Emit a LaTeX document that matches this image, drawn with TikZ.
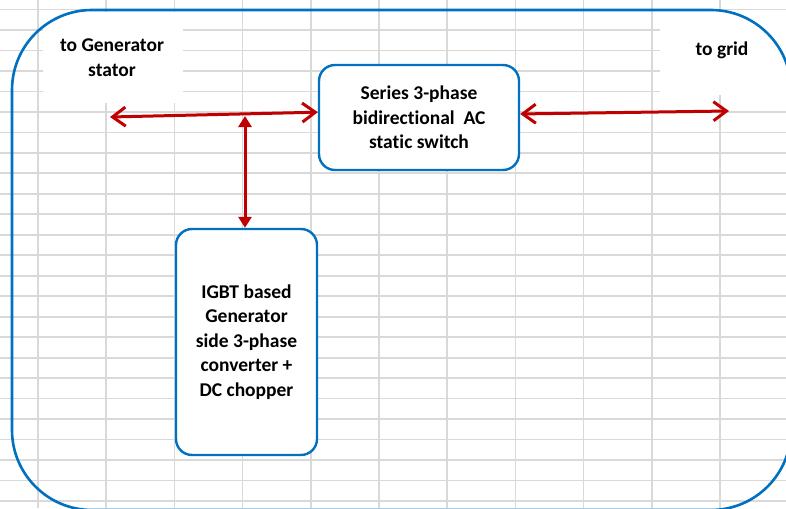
\documentclass[tikz,border=0pt]{standalone}
\usepackage{fontspec}
\setmainfont{Carlito}[Ligatures={NoCommon}]
\usetikzlibrary{arrows.meta}
\definecolor{gridgray}{HTML}{D9D9D9}
\definecolor{frameblue}{HTML}{0070C0}
\definecolor{arrowred}{HTML}{C00000}
\tikzset{
  labelfont/.style={font=\bfseries\fontsize{19.5}{24.5}\selectfont},
  blockbox/.style={draw=frameblue, line width=2.4pt, fill=white, rounded corners=16pt,
    align=center, inner sep=0pt, labelfont},
  freelabel/.style={align=center, inner sep=0pt, labelfont},
  cover/.style={fill=white, draw=none},
  gridline/.style={draw=gridgray, line width=1.7pt},
  frame/.style={draw=frameblue, line width=2.6pt, rounded corners=80pt},
  acline/.style={draw=arrowred, line width=3pt,
    {Straight Barb[length=13pt,width=19pt,line width=3pt]}-{Straight Barb[length=13pt,width=19pt,line width=3pt]}},
  dcline/.style={draw=arrowred, line width=3pt,
    {Triangle[length=11pt,width=13pt]}-{Triangle[length=11pt,width=13pt]}}
}
\begin{document}
\begin{tikzpicture}[x=1pt,y=-1pt]
\useasboundingbox (0,0) rectangle (786,508);
\clip (0,0) rectangle (786,508);
% spreadsheet cell grid
\foreach \k in {0,...,10} \draw[gridline] ({38+68.2*\k},0) -- ({38+68.2*\k},508);
\foreach \k in {0,...,24} \draw[gridline] (0,{9.5+20.48*\k}) -- (786,{9.5+20.48*\k});
% white patches behind the free labels
\fill[cover] (43,12) rectangle (183,103);
\fill[cover] (660,12) rectangle (790,95);
% outer rounded frame
\draw[frame] (12,10) rectangle (791,510);
% blocks
\node[blockbox, minimum width=200pt, minimum height=105pt] (series) at (419,117.5)
  {Series 3-phase\\bidirectional\ \ AC\\static switch};
\node[blockbox, minimum width=141pt, minimum height=226pt] (igbt) at (246.5,342)
  {IGBT based\\Generator\\side 3-phase\\converter +\\DC chopper};
% free labels
\node[freelabel] (genlabel) at (112,57.5) {to Generator\\stator};
\node[freelabel] (gridlabel) at (722,50) {to grid};
% connector ends
\coordinate (genend) at (110,117);
\coordinate (gridend) at (729,111);
\coordinate (junction) at (245,116);
% connectors
\draw[acline] (genend) -- (series.177.4);
\draw[acline] (series.2) -- (gridend);
\draw[dcline] (junction) -- (junction |- igbt.north);
\end{tikzpicture}
\end{document}
